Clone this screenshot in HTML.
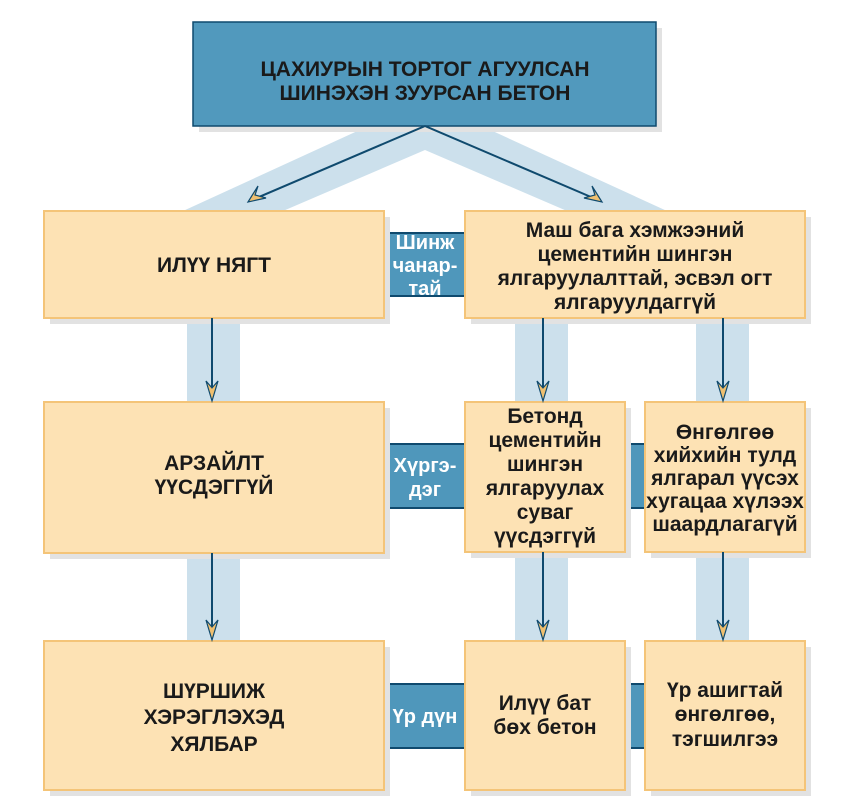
<!DOCTYPE html>
<html><head><meta charset="utf-8"><style>
html,body{margin:0;padding:0;background:#fff;}
svg{display:block;}
text{font-family:"Liberation Sans",sans-serif;font-weight:bold;}
</style></head><body>
<svg width="846" height="802" viewBox="0 0 846 802" xmlns="http://www.w3.org/2000/svg">
<!-- bands -->
<g fill="#cce0ec">
<polygon points="183,211 283,211 425,150 567,211 667,211 425,100"/>
<rect x="187" y="318" width="53" height="84"/>
<rect x="187" y="553" width="53" height="88"/>
<rect x="515" y="318" width="53" height="84"/>
<rect x="515" y="552" width="53" height="89"/>
<rect x="696" y="318" width="53" height="84"/>
<rect x="696" y="552" width="53" height="89"/>
</g>
<!-- connectors -->
<g fill="#4f97bb" stroke="#0f4a6e" stroke-width="2">
<rect x="384" y="233" width="81" height="63" stroke="none"/>
<line x1="384" y1="233" x2="465" y2="233"/><line x1="384" y1="296" x2="465" y2="296"/>
<rect x="384" y="444" width="81" height="64" stroke="none"/>
<line x1="384" y1="444" x2="465" y2="444"/><line x1="384" y1="508" x2="465" y2="508"/>
<rect x="625" y="444" width="20" height="64" stroke="none"/>
<line x1="625" y1="444" x2="645" y2="444"/><line x1="625" y1="508" x2="645" y2="508"/>
<rect x="384" y="684" width="81" height="64" stroke="none"/>
<line x1="384" y1="684" x2="465" y2="684"/><line x1="384" y1="748" x2="465" y2="748"/>
<rect x="625" y="684" width="20" height="64" stroke="none"/>
<line x1="625" y1="684" x2="645" y2="684"/><line x1="625" y1="748" x2="645" y2="748"/>
</g>
<g fill="#fff" font-size="20" text-anchor="middle">
<text x="425" y="249">Шинж</text><text x="425" y="272">чанар-</text><text x="425" y="295">тай</text>
<text x="425" y="472">Хүргэ-</text><text x="425" y="496">дэг</text>
<text x="425" y="723">Үр дүн</text>
</g>
<!-- shadows -->
<g fill="#e2e2e2">
<rect x="199" y="28" width="463" height="104"/>
<rect x="50" y="217" width="340" height="107"/>
<rect x="471" y="217" width="340" height="107"/>
<rect x="50" y="408" width="340" height="151"/>
<rect x="471" y="408" width="160" height="150"/>
<rect x="651" y="408" width="160" height="150"/>
<rect x="50" y="647" width="340" height="149"/>
<rect x="471" y="647" width="160" height="149"/>
<rect x="651" y="647" width="160" height="149"/>
</g>
<rect x="193" y="22" width="463" height="104" fill="#5199bd" stroke="#0f4a6e" stroke-width="1.5"/>
<g fill="#fde2b4" stroke="#f4c478" stroke-width="2">
<rect x="44" y="211" width="340" height="107"/>
<rect x="465" y="211" width="340" height="107"/>
<rect x="44" y="402" width="340" height="151"/>
<rect x="465" y="402" width="160" height="150"/>
<rect x="645" y="402" width="160" height="150"/>
<rect x="44" y="641" width="340" height="149"/>
<rect x="465" y="641" width="160" height="149"/>
<rect x="645" y="641" width="160" height="149"/>
</g>
<!-- arrows -->
<g stroke="#0f4a6e" stroke-width="2" fill="none">
<line x1="425" y1="126" x2="252" y2="200"/>
<line x1="425" y1="126" x2="598" y2="200"/>
<line x1="212" y1="318" x2="212" y2="398"/>
<line x1="212" y1="553" x2="212" y2="637"/>
<line x1="543" y1="318" x2="543" y2="398"/>
<line x1="543" y1="552" x2="543" y2="637"/>
<line x1="723" y1="318" x2="723" y2="398"/>
<line x1="723" y1="552" x2="723" y2="637"/>
</g>
<g fill="#f0c070" stroke="#0f4a6e" stroke-width="1.2">
<polygon points="212,401 206,381 212,388 218,381"/>
<polygon points="212,640 206,620 212,627 218,620"/>
<polygon points="543,401 537,381 543,388 549,381"/>
<polygon points="543,640 537,620 543,627 549,620"/>
<polygon points="723,401 717,381 723,388 729,381"/>
<polygon points="723,640 717,620 723,627 729,620"/>
<polygon points="248,202 258,186 255,195 266,198"/>
<polygon points="602,202 592,186 595,195 584,198"/>
</g>
<!-- text -->
<g fill="#1a1a1a" font-size="21" text-anchor="middle">
<text x="425" y="76">ЦАХИУРЫН ТОРТОГ АГУУЛСАН</text>
<text x="425" y="100">ШИНЭХЭН ЗУУРСАН БЕТОН</text>
<text x="214" y="272">ИЛҮҮ НЯГТ</text>
<text x="214" y="470">АРЗАЙЛТ</text>
<text x="214" y="494">ҮҮСДЭГГҮЙ</text>
<text x="214" y="698">ШҮРШИЖ</text>
<text x="214" y="724">ХЭРЭГЛЭХЭД</text>
<text x="214" y="751">ХЯЛБАР</text>
<text x="635" y="237">Маш бага хэмжээний</text>
<text x="635" y="261">цементийн шингэн</text>
<text x="635" y="285">ялгаруулалттай, эсвэл огт</text>
<text x="635" y="309">ялгаруулдаггүй</text>
<text x="545" y="423">Бетонд</text>
<text x="545" y="447">цементийн</text>
<text x="545" y="471">шингэн</text>
<text x="545" y="495">ялгаруулах</text>
<text x="545" y="519">суваг</text>
<text x="545" y="543">үүсдэггүй</text>
<text x="725" y="439">Өнгөлгөө</text>
<text x="725" y="462">хийхийн тулд</text>
<text x="725" y="485">ялгарал үүсэх</text>
<text x="725" y="508">хугацаа хүлээх</text>
<text x="725" y="531">шаардлагагүй</text>
<text x="545" y="710">Илүү бат</text>
<text x="545" y="734">бөх бетон</text>
<text x="725" y="697">Үр ашигтай</text>
<text x="725" y="721">өнгөлгөө,</text>
<text x="725" y="746">тэгшилгээ</text>
</g>
</svg>
</body></html>
